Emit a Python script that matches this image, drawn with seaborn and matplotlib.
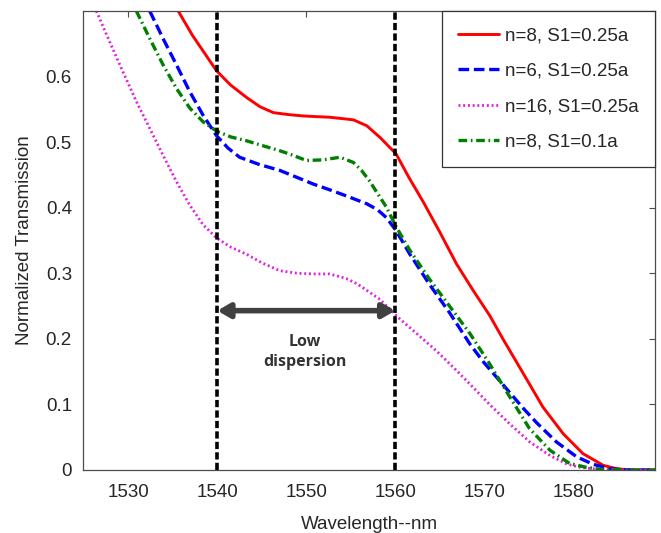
import matplotlib
matplotlib.use("Agg")
import matplotlib.pyplot as plt
import matplotlib.patheffects as pe
import seaborn as sns

# -----------------------------------------------------
# Data
# -----------------------------------------------------

wl_red = [1535.6, 1537.2, 1538.7, 1539.9, 1541.5, 1543.3, 1544.8, 1546.3, 1548.0, 1549.6,
          1551.0, 1552.6, 1554.0, 1555.3, 1556.8, 1558.3, 1560.1, 1561.5, 1563.1, 1565.0,
          1566.9, 1568.8, 1570.6, 1572.1, 1574.4, 1576.6, 1578.9, 1581.1, 1583.4, 1584.9,
          1586.5, 1589.2]
tr_red = [0.700, 0.663, 0.633, 0.609, 0.587, 0.568, 0.554, 0.545, 0.542, 0.540,
          0.539, 0.538, 0.536, 0.534, 0.525, 0.507, 0.482, 0.447, 0.410, 0.363,
          0.314, 0.273, 0.236, 0.200, 0.147, 0.096, 0.055, 0.025, 0.007, 0.002,
          0.000, 0.000]

wl_blue = [1532.4, 1533.9, 1535.4, 1536.9, 1538.4, 1539.9, 1541.2, 1542.5, 1544.7, 1547.0,
           1549.0, 1550.8, 1552.7, 1554.5, 1556.8, 1558.0, 1559.0, 1560.1, 1561.6, 1563.9,
           1566.1, 1568.4, 1569.9, 1572.5, 1574.4, 1575.9, 1578.1, 1580.4, 1582.2, 1584.0,
           1586.0, 1589.2]
tr_blue = [0.700, 0.658, 0.618, 0.577, 0.541, 0.510, 0.491, 0.477, 0.466, 0.457,
           0.446, 0.436, 0.427, 0.418, 0.406, 0.397, 0.385, 0.365, 0.330, 0.282,
           0.240, 0.192, 0.165, 0.124, 0.094, 0.072, 0.043, 0.020, 0.009, 0.002,
           0.000, 0.000]

wl_mag = [1526.4, 1527.9, 1529.4, 1530.9, 1532.4, 1533.9, 1535.4, 1536.9, 1538.4, 1539.9,
          1541.5, 1543.3, 1545.0, 1547.0, 1549.0, 1550.8, 1552.6, 1554.5, 1555.7, 1556.8,
          1558.3, 1560.3, 1562.5, 1564.6, 1566.5, 1568.4, 1570.6, 1572.9, 1575.1, 1577.4,
          1579.3, 1580.8, 1583.0, 1586.0, 1589.2]
tr_mag = [0.700, 0.653, 0.607, 0.562, 0.521, 0.480, 0.440, 0.404, 0.374, 0.354,
          0.340, 0.329, 0.316, 0.304, 0.300, 0.299, 0.299, 0.292, 0.284, 0.274,
          0.260, 0.233, 0.207, 0.182, 0.157, 0.131, 0.100, 0.070, 0.043, 0.022,
          0.009, 0.004, 0.001, 0.000, 0.000]

wl_green = [1530.9, 1532.4, 1533.9, 1535.4, 1536.9, 1538.4, 1539.9, 1541.5, 1543.3, 1545.0,
            1547.0, 1548.5, 1550.0, 1551.9, 1553.8, 1555.3, 1556.2, 1557.1, 1558.0, 1559.0,
            1560.1, 1561.6, 1563.9, 1566.1, 1568.4, 1570.6, 1572.9, 1575.1, 1577.4, 1579.6,
            1581.5, 1583.0, 1586.0, 1589.2]
tr_green = [0.700, 0.658, 0.618, 0.582, 0.552, 0.531, 0.517, 0.508, 0.502, 0.495,
            0.487, 0.480, 0.472, 0.473, 0.477, 0.469, 0.457, 0.441, 0.422, 0.401,
            0.371, 0.336, 0.290, 0.250, 0.208, 0.162, 0.111, 0.063, 0.030, 0.010,
            0.004, 0.001, 0.000, 0.000]

labels = ["n=8, S1=0.25a", "n=6, S1=0.25a", "n=16, S1=0.25a", "n=8, S1=0.1a"]

band_edges = [1540, 1560]
arrow_level = 0.243
note_pos = (1549.8, 0.18)

x_ticks = [1530, 1540, 1550, 1560, 1570, 1580]
y_ticks = [0, 0.1, 0.2, 0.3, 0.4, 0.5, 0.6]

# -----------------------------------------------------
# Style
# -----------------------------------------------------

sns.set_theme(style="white")
plt.rcParams["font.family"] = ["Liberation Sans", "DejaVu Sans"]
text_color = "#262626"

series = [
    (wl_red, tr_red, "#ff0000", "-", 2.1),
    (wl_blue, tr_blue, "#0000ff", (0, (3.2, 1.4)), 2.4),
    (wl_mag, tr_mag, "#e020e0", (0, (0.7, 1.0)), 2.0),
    (wl_green, tr_green, "#007f00", (0, (2.6, 1.1, 0.5, 1.1)), 2.4),
]

fig = plt.figure(figsize=(6.61, 5.33), dpi=100)
ax = fig.add_axes([83 / 661, 63 / 533, 572 / 661, 459 / 533])

for (wl, tr, color, ls, lw), label in zip(series, labels):
    sns.lineplot(x=wl, y=tr, ax=ax, color=color, linestyle=ls, linewidth=lw,
                 label=label, sort=False, estimator=None, legend=False)

# Low-dispersion window
for edge in band_edges:
    ax.axvline(edge, color="black", lw=2.6, linestyle=(0, (2.0, 0.9)), zorder=5)

ax.annotate("", xy=(band_edges[0], arrow_level), xytext=(band_edges[1], arrow_level),
            arrowprops=dict(arrowstyle="<|-|>,head_length=0.6,head_width=0.35",
                            lw=4.0, color="#404040", shrinkA=0, shrinkB=0,
                            path_effects=[pe.withSimplePatchShadow(offset=(1, -1.5),
                                                                   shadow_rgbFace="#999999",
                                                                   alpha=0.5)]),
            zorder=6)
ax.text(note_pos[0], note_pos[1], "Low\ndispersion", ha="center", va="center",
        fontsize=11.5, fontweight="bold", family=["Open Sans", "DejaVu Sans"],
        color="#333333", linespacing=1.3)

# Axes
ax.set_xlim(1524.9, 1589.2)
ax.set_ylim(0, 0.7)
ax.set_xticks(x_ticks)
ax.set_yticks(y_ticks)
ax.set_yticklabels(["0"] + [f"{v:.1f}" for v in y_ticks[1:]])
ax.tick_params(direction="in", length=4, width=0.8, colors="#4d4d4d",
               labelcolor=text_color, labelsize=13.5, top=True, right=True)
ax.tick_params(axis="x", pad=10)
ax.tick_params(axis="y", pad=8)
for spine in ax.spines.values():
    spine.set_color("#4d4d4d")
    spine.set_linewidth(0.9)

ax.set_xlabel("Wavelength--nm", fontsize=13.5, color=text_color, labelpad=11)
ax.set_ylabel("Normalized Transmission", fontsize=13.5, color=text_color, labelpad=9)

leg = ax.legend(loc="upper right", bbox_to_anchor=(1, 1), borderaxespad=0,
                fontsize=13.5, handlelength=2.2, handletextpad=0.35,
                labelspacing=0.98, borderpad=0.85, fancybox=False, framealpha=1)
leg.get_frame().set_edgecolor("#333333")
leg.get_frame().set_linewidth(0.9)
for txt in leg.get_texts():
    txt.set_color(text_color)

fig.savefig("out.png", dpi=100)
